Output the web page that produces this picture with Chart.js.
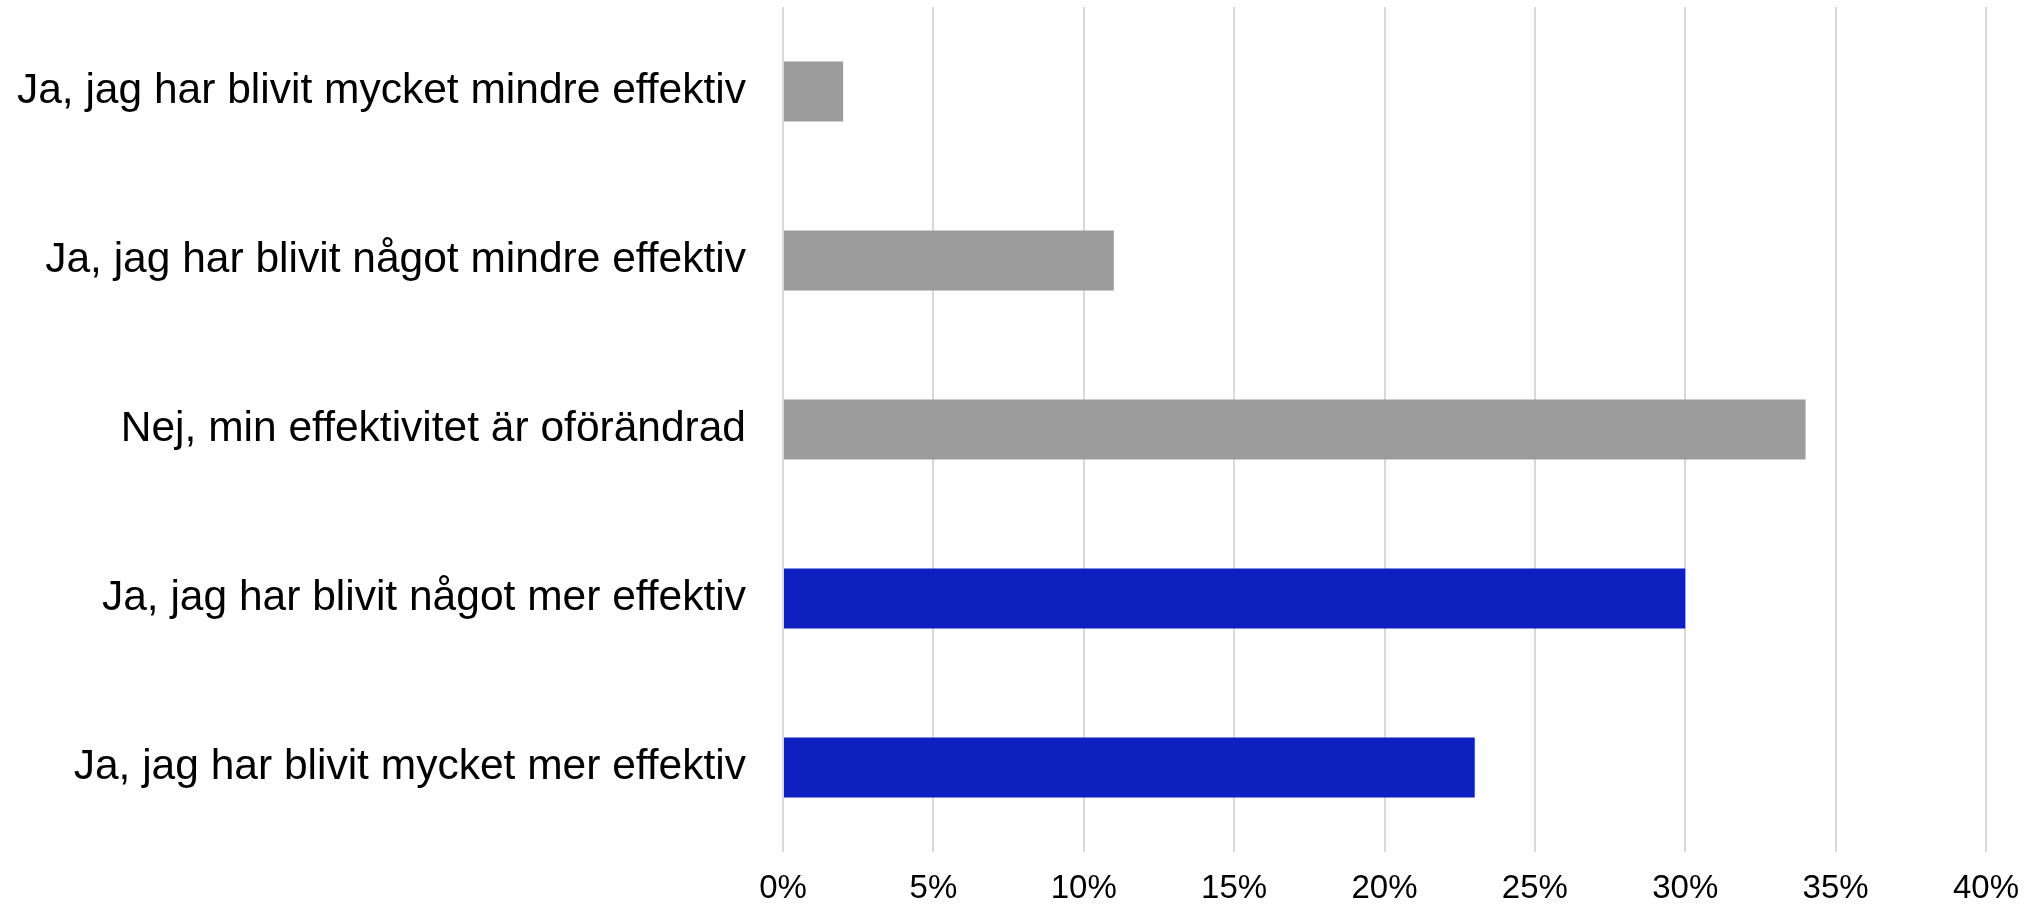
<!DOCTYPE html>
<html>
<head>
<meta charset="utf-8">
<script src="https://cdn.jsdelivr.net/npm/chart.js@4"></script>
<style>
  html, body { margin: 0; padding: 0; background: #ffffff; }
  #wrap { width: 2035px; height: 906px; position: relative; }
</style>
</head>
<body>
<div id="wrap"><canvas id="c" width="2035" height="906"></canvas></div>
<script>
const categories = [
  "Ja, jag har blivit mycket mindre effektiv",
  "Ja, jag har blivit något mindre effektiv",
  "Nej, min effektivitet är oförändrad",
  "Ja, jag har blivit något mer effektiv",
  "Ja, jag har blivit mycket mer effektiv"
];
const values = [2, 11, 34, 30, 23];
const barColors = ["#9c9c9c", "#9c9c9c", "#9c9c9c", "#0f20c0", "#0f20c0"];
const xTicks = [0, 5, 10, 15, 20, 25, 30, 35, 40];

new Chart(document.getElementById('c'), {
  type: 'bar',
  data: {
    labels: categories,
    datasets: [{
      data: values,
      backgroundColor: barColors,
      borderWidth: 0,
      barPercentage: 0.355,
      categoryPercentage: 1.0
    }]
  },
  options: {
    indexAxis: 'y',
    responsive: false,
    animation: false,
    devicePixelRatio: 1,
    layout: { padding: { top: 7, right: 49, bottom: 0, left: 0 } },
    plugins: { legend: { display: false }, tooltip: { enabled: false } },
    scales: {
      x: {
        min: 0, max: 40,
        afterBuildTicks: (s) => { s.ticks = xTicks.map(v => ({ value: v })); },
        afterFit: (s) => { s.height = 54; s.paddingLeft = 0; s.paddingRight = 0; },
        grid: { color: '#d9d9d9', lineWidth: 2, drawTicks: false },
        border: { display: false },
        ticks: {
          padding: 17,
          color: '#000000',
          font: { family: '"Liberation Sans", Arial, sans-serif', size: 33 },
          callback: (v) => v + '%'
        }
      },
      y: {
        afterFit: (s) => { s.width = 783; s.paddingTop = 0; s.paddingBottom = 0; },
        grid: { display: false, drawTicks: false },
        border: { display: false },
        ticks: {
          padding: 37,
          color: '#000000',
          font: { family: '"Liberation Sans", Arial, sans-serif', size: 42.5 }
        }
      }
    }
  }
});
</script>
</body>
</html>
